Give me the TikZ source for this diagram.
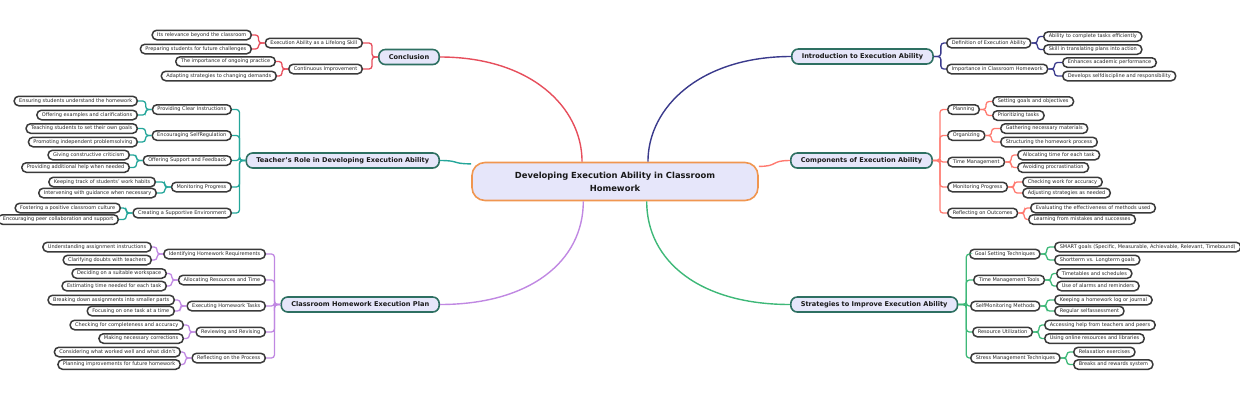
\documentclass[tikz,border=0pt]{standalone}
\usepackage{fontspec}
\setmainfont{DejaVu Sans}
\usetikzlibrary{calc}
\definecolor{nodefill}{RGB}{230,230,250}
\definecolor{mainline}{RGB}{46,112,98}
\definecolor{rootline}{RGB}{240,150,80}
\definecolor{leafline}{RGB}{58,58,58}
\definecolor{conccol}{RGB}{230,78,92}
\definecolor{teachcol}{RGB}{36,166,154}
\definecolor{plancol}{RGB}{192,136,226}
\definecolor{introcol}{RGB}{58,58,140}
\definecolor{compcol}{RGB}{255,122,112}
\definecolor{stratcol}{RGB}{62,184,120}
\tikzset{
  leaf/.style={draw=leafline,line width=1.5pt,fill=white,rounded corners=4.5pt,inner xsep=5pt,inner ysep=0pt,minimum height=9.5pt,text=black!85,font=\fontsize{5}{6}\selectfont},
  leafL/.style={leaf,anchor=east},
  leafR/.style={leaf,anchor=west},
  mainbox/.style={draw=mainline,line width=1.6pt,fill=nodefill,rounded corners=6.5pt,inner xsep=10pt,inner ysep=0pt,minimum height=15pt,text=black!90,font=\fontsize{6.6}{7}\selectfont\bfseries},
  rootbox/.style={draw=rootline,line width=1.6pt,fill=nodefill,rounded corners=13pt,minimum width=286pt,minimum height=38pt,align=center,text=black!90,font=\fontsize{8.4}{13}\selectfont\bfseries},
  link/.style={line width=1.3pt,rounded corners=3pt},
  branch/.style={line width=1.4pt}
}
\begin{document}
\begin{tikzpicture}[x=1pt,y=-1pt]
\useasboundingbox (0,0) rectangle (1240,400);

% centre
\node[rootbox] (root) at (615,181.5) {Developing Execution Ability in Classroom\\Homework};

% main topics
\node[mainbox,anchor=east] (conc) at (440,57) {Conclusion};
\node[mainbox,anchor=east] (teach) at (440,160.5) {Teacher's Role in Developing Execution Ability};
\node[mainbox,anchor=east] (plan) at (440,304.5) {Classroom Homework Execution Plan};
\node[mainbox,anchor=west] (intro) at (791,56.5) {Introduction to Execution Ability};
\node[mainbox,anchor=west] (comp) at (790,160.5) {Components of Execution Ability};
\node[mainbox,anchor=west] (strat) at (790,304.5) {Strategies to Improve Execution Ability};

\draw[branch,conccol] (root.149) .. controls +(0,-55) and +(90,0) .. (conc.east);
\draw[branch,introcol] (root.31) .. controls +(0,-55) and +(-90,0) .. (intro.west);
\draw[branch,teachcol] (root.173) .. controls +(-20,0) and +(20,0) .. (teach.east);
\draw[branch,compcol] (root.6) .. controls +(20,0) and +(-20,0) .. (comp.west);
\draw[branch,plancol] (root.212) .. controls +(0,60) and +(90,0) .. (plan.east);
\draw[branch,stratcol] (root.328) .. controls +(0,60) and +(-90,0) .. (strat.west);

% Conclusion
\node[leafL] (cs1) at (363,43) {Execution Ability as a Lifelong Skill};
\node[leafL] (cs2) at (363,69) {Continuous Improvement};
\node[leafL] (cl1) at (252,35) {Its relevance beyond the classroom};
\node[leafL] (cl2) at (252,49) {Preparing students for future challenges};
\node[leafL] (cl3) at (276,61.5) {The importance of ongoing practice};
\node[leafL] (cl4) at (277,76) {Adapting strategies to changing demands};
\foreach \s/\a/\b in {cs1/cl1/cl2,cs2/cl3/cl4} {
  \draw[link,conccol] (conc.west) -- ++(-6,0) |- (\s.east);
  \draw[link,conccol] (\s.west) -- ++(-6,0) |- (\a.east);
  \draw[link,conccol] (\s.west) -- ++(-6,0) |- (\b.east);
}

% Teacher's role
\node[leafL] (ts1) at (232,109.5) {Providing Clear Instructions};
\node[leafL] (ts2) at (232,135.5) {Encouraging SelfRegulation};
\node[leafL] (ts3) at (232,160.5) {Offering Support and Feedback};
\node[leafL] (ts4) at (232,187) {Monitoring Progress};
\node[leafL] (ts5) at (232,213) {Creating a Supportive Environment};
\node[leafL] (tl1) at (138,101) {Ensuring students understand the homework};
\node[leafL] (tl2) at (138,115) {Offering examples and clarifications};
\node[leafL] (tl3) at (138,128.5) {Teaching students to set their own goals};
\node[leafL] (tl4) at (138,142) {Promoting independent problemsolving};
\node[leafL] (tl5) at (130,155) {Giving constructive criticism};
\node[leafL] (tl6) at (130,167.5) {Providing additional help when needed};
\node[leafL] (tl7) at (156,182) {Keeping track of students' work habits};
\node[leafL] (tl8) at (157,193) {Intervening with guidance when necessary};
\node[leafL] (tl9) at (121,208) {Fostering a positive classroom culture};
\node[leafL] (tl10) at (119,219.5) {Encouraging peer collaboration and support};
\foreach \s/\a/\b in {ts1/tl1/tl2,ts2/tl3/tl4,ts3/tl5/tl6,ts4/tl7/tl8,ts5/tl9/tl10} {
  \draw[link,teachcol] (teach.west) -- ++(-6,0) |- (\s.east);
  \draw[link,teachcol] (\s.west) -- ++(-6,0) |- (\a.east);
  \draw[link,teachcol] (\s.west) -- ++(-6,0) |- (\b.east);
}

% Classroom homework execution plan
\node[leafL] (ps1) at (266,254) {Identifying Homework Requirements};
\node[leafL] (ps2) at (266,280) {Allocating Resources and Time};
\node[leafL] (ps3) at (266,306) {Executing Homework Tasks};
\node[leafL] (ps4) at (266,332) {Reviewing and Revising};
\node[leafL] (ps5) at (266,358) {Reflecting on the Process};
\node[leafL] (pl1) at (152,247) {Understanding assignment instructions};
\node[leafL] (pl2) at (152,260) {Clarifying doubts with teachers};
\node[leafL] (pl3) at (167,273.5) {Deciding on a suitable workspace};
\node[leafL] (pl4) at (167,286) {Estimating time needed for each task};
\node[leafL] (pl5) at (175,300) {Breaking down assignments into smaller parts};
\node[leafL] (pl6) at (175,311) {Focusing on one task at a time};
\node[leafL] (pl7) at (184,325) {Checking for completeness and accuracy};
\node[leafL] (pl8) at (184,338.5) {Making necessary corrections};
\node[leafL] (pl9) at (181,352) {Considering what worked well and what didn't};
\node[leafL] (pl10) at (181,364.5) {Planning improvements for future homework};
\foreach \s/\a/\b in {ps1/pl1/pl2,ps2/pl3/pl4,ps3/pl5/pl6,ps4/pl7/pl8,ps5/pl9/pl10} {
  \draw[link,plancol] (plan.west) -- ++(-6,0) |- (\s.east);
  \draw[link,plancol] (\s.west) -- ++(-6,0) |- (\a.east);
  \draw[link,plancol] (\s.west) -- ++(-6,0) |- (\b.east);
}

% Introduction
\node[leafR] (is1) at (946,43) {Definition of Execution Ability};
\node[leafR] (is2) at (946,69) {Importance in Classroom Homework};
\node[leafR] (il1) at (1043,36.5) {Ability to complete tasks efficiently};
\node[leafR] (il2) at (1043,49.5) {Skill in translating plans into action};
\node[leafR] (il3) at (1062,62.5) {Enhances academic performance};
\node[leafR] (il4) at (1062,76) {Develops selfdiscipline and responsibility};
\foreach \s/\a/\b in {is1/il1/il2,is2/il3/il4} {
  \draw[link,introcol] (intro.east) -- ++(7,0) |- (\s.west);
  \draw[link,introcol] (\s.east) -- ++(6,0) |- (\a.west);
  \draw[link,introcol] (\s.east) -- ++(6,0) |- (\b.west);
}

% Components
\node[leafR] (ks1) at (947,109.5) {Planning};
\node[leafR] (ks2) at (947,135.5) {Organizing};
\node[leafR] (ks3) at (947,162) {Time Management};
\node[leafR] (ks4) at (947,187) {Monitoring Progress};
\node[leafR] (ks5) at (947,213) {Reflecting on Outcomes};
\node[leafR] (kl1) at (992,101.5) {Setting goals and objectives};
\node[leafR] (kl2) at (992,115.5) {Prioritizing tasks};
\node[leafR] (kl3) at (1000,128.5) {Gathering necessary materials};
\node[leafR] (kl4) at (1000,142) {Structuring the homework process};
\node[leafR] (kl5) at (1017,155) {Allocating time for each task};
\node[leafR] (kl6) at (1017,167.5) {Avoiding procrastination};
\node[leafR] (kl7) at (1022,182) {Checking work for accuracy};
\node[leafR] (kl8) at (1022,193) {Adjusting strategies as needed};
\node[leafR] (kl9) at (1030,208) {Evaluating the effectiveness of methods used};
\node[leafR] (kl10) at (1028,219.5) {Learning from mistakes and successes};
\foreach \s/\a/\b in {ks1/kl1/kl2,ks2/kl3/kl4,ks3/kl5/kl6,ks4/kl7/kl8,ks5/kl9/kl10} {
  \draw[link,compcol] (comp.east) -- ++(7,0) |- (\s.west);
  \draw[link,compcol] (\s.east) -- ++(6,0) |- (\a.west);
  \draw[link,compcol] (\s.east) -- ++(6,0) |- (\b.west);
}

% Strategies
\node[leafR] (ss1) at (969,254) {Goal Setting Techniques};
\node[leafR] (ss2) at (973,280) {Time Management Tools};
\node[leafR] (ss3) at (970,306) {SelfMonitoring Methods};
\node[leafR] (ss4) at (972,332) {Resource Utilization};
\node[leafR] (ss5) at (970,358) {Stress Management Techniques};
\node[leafR] (sl1) at (1054,247) {SMART goals (Specific, Measurable, Achievable, Relevant, Timebound)};
\node[leafR] (sl2) at (1054,260) {Shortterm vs. Longterm goals};
\node[leafR] (sl3) at (1056,273.5) {Timetables and schedules};
\node[leafR] (sl4) at (1056,286) {Use of alarms and reminders};
\node[leafR] (sl5) at (1054,300) {Keeping a homework log or journal};
\node[leafR] (sl6) at (1054,311) {Regular selfassessment};
\node[leafR] (sl7) at (1044,325) {Accessing help from teachers and peers};
\node[leafR] (sl8) at (1044,338.5) {Using online resources and libraries};
\node[leafR] (sl9) at (1073,352) {Relaxation exercises};
\node[leafR] (sl10) at (1073,364.5) {Breaks and rewards system};
\foreach \s/\a/\b in {ss1/sl1/sl2,ss2/sl3/sl4,ss3/sl5/sl6,ss4/sl7/sl8,ss5/sl9/sl10} {
  \draw[link,stratcol] (strat.east) -- ++(8,0) |- (\s.west);
  \draw[link,stratcol] (\s.east) -- ++(6,0) |- (\a.west);
  \draw[link,stratcol] (\s.east) -- ++(6,0) |- (\b.west);
}
\end{tikzpicture}
\end{document}
